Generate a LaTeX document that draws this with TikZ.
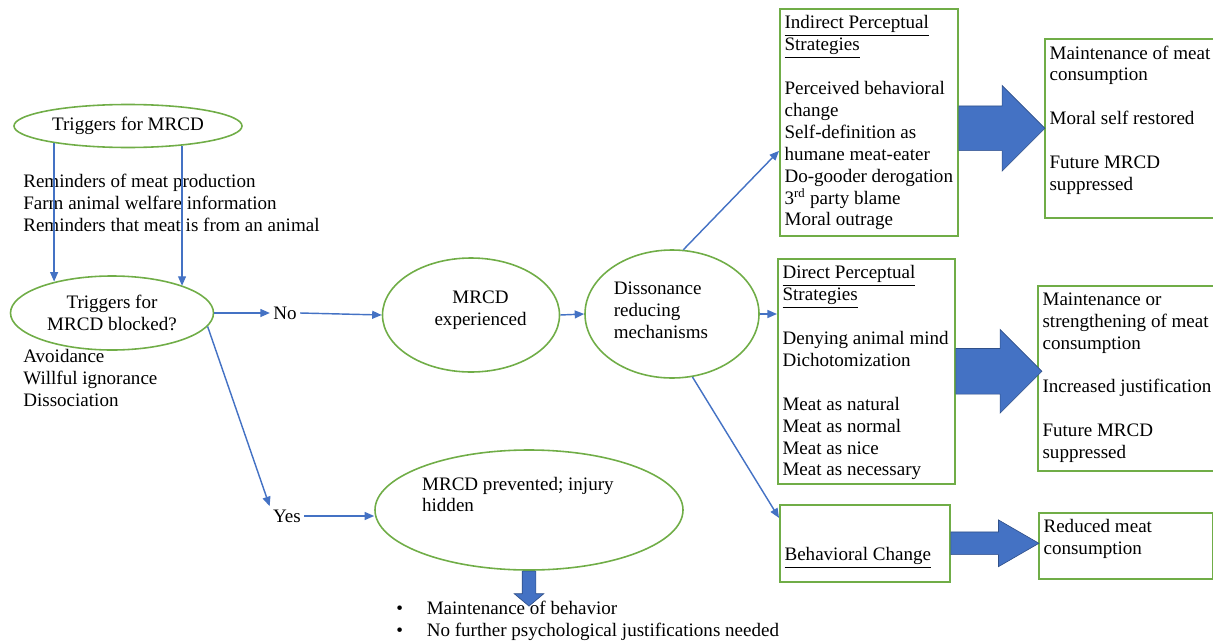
\documentclass[tikz,border=0pt]{standalone}
\usepackage{fontspec}
\setmainfont{Liberation Serif}
\usetikzlibrary{shapes.geometric,shapes.arrows,arrows.meta,positioning,calc}

\definecolor{lineblue}{HTML}{4472C4}
\definecolor{edgegreen}{HTML}{70AD47}
\newlength\pxu
\setlength\pxu{0.63pt}
% text block of a box, top aligned
\newcommand\boxtext[3]{\parbox[c][\dimexpr #2\pxu-6pt\relax][t]{\dimexpr #1\pxu-6pt\relax}{\vspace*{1.3pt}\raggedright #3}}

\begin{document}
\begin{tikzpicture}[
            x=0.63pt, y=-0.63pt,
            font=\fontsize{12}{13.8}\selectfont,
            oval/.style={draw=edgegreen, line width=1pt, ellipse, inner sep=0pt},
            box/.style={draw=edgegreen, line width=1pt, rectangle, inner sep=3pt, anchor=north west},
            plain/.style={inner sep=0pt, align=left, anchor=west},
            arrow/.style={draw=lineblue, line width=0.9pt, -{Triangle[length=6pt,width=5pt]}},
            fat/.style={single arrow, fill=lineblue, draw=lineblue!70!black, line width=0.4pt, inner xsep=0pt, anchor=west}
        ]
            \useasboundingbox (0,0) rectangle (1213,643);

            % left part
            \node[oval, minimum width=228*\pxu, minimum height=43*\pxu, label=center:Triggers for MRCD] (trig) at (128,126) {};
            \node[plain] (remind) at (23,203) {Reminders of meat production\\Farm animal welfare information\\Reminders that meat is from an animal};
            \node[oval, minimum width=203*\pxu, minimum height=74*\pxu, label={[align=center]center:Triggers for\\MRCD blocked?}] (blocked) at (112,313) {};
            \node[plain] (avoid) at (23,378) {Avoidance\\Willful ignorance\\Dissociation};
            \node[inner sep=2pt] (no) at (285,313) {No};
            \node[inner sep=2pt] (yes) at (287,516) {Yes};

            % middle part
            \node[oval, minimum width=177*\pxu, minimum height=114*\pxu, label={[align=center, xshift=6pt, yshift=3pt]center:MRCD\\experienced}] (exper) at (471,315) {};
            \node[oval, minimum width=174*\pxu, minimum height=128*\pxu, label={[align=left, xshift=-7pt, yshift=2.5pt]center:Dissonance\\reducing\\mechanisms}] (diss) at (672,314) {};
            \node[oval, minimum width=308*\pxu, minimum height=120*\pxu, label={[align=left, xshift=-7pt, yshift=9.8pt]center:MRCD prevented; injury\\hidden}] (prev) at (529,510) {};
            \node[plain, anchor=west] (bullets) at (396,621.5) {\begin{tabular}{@{}l@{\hspace{15pt}}l@{}}\textbullet & Maintenance of behavior\\\textbullet & No further psychological justifications needed\end{tabular}};

            % strategy boxes
            \node[box] (indirect) at (779,8) {\boxtext{178}{227}{\underline{Indirect Perceptual}\\\underline{Strategies}\\[\baselineskip]Perceived behavioral\\change\\Self-definition as\\humane meat-eater\\Do-gooder derogation\\3\textsuperscript{rd} party blame\\Moral outrage}};
            \node[box] (direct) at (777,258) {\boxtext{177}{225}{\underline{Direct Perceptual}\\\underline{Strategies}\\[\baselineskip]Denying animal mind\\Dichotomization\\[\baselineskip]Meat as natural\\Meat as normal\\Meat as nice\\Meat as necessary}};
            \node[box] (behav) at (779,504) {\boxtext{170}{77}{\vspace*{22.7pt}\underline{Behavioral Change}}};

            % outcome boxes
            \node[box] (maint) at (1044,38) {\boxtext{182}{179}{Maintenance of meat\\consumption\\[\baselineskip]Moral self restored\\[\baselineskip]Future MRCD\\suppressed}};
            \node[box] (strength) at (1037,285) {\boxtext{189}{185}{Maintenance or\\strengthening of meat\\consumption\\[\baselineskip]Increased justification\\[\baselineskip]Future MRCD\\suppressed}};
            \node[box] (reduced) at (1038,512) {\boxtext{174}{66}{Reduced meat\\consumption}};

            % block arrows
            \node[fat, minimum height=86*\pxu, minimum width=85*\pxu, inner ysep=22*\pxu, single arrow head extend=20.5*\pxu] (fat1) at (indirect.east |- maint.west) {};
            \node[fat, minimum height=86*\pxu, minimum width=83*\pxu, inner ysep=22.5*\pxu, single arrow head extend=19*\pxu] (fat2) at (direct.east) {};
            \node[fat, minimum height=88*\pxu, minimum width=46*\pxu, inner ysep=11*\pxu, single arrow head extend=12*\pxu, single arrow tip angle=60] (fat3) at (behav.east) {};
            \node[fat, rotate=-90, minimum height=35*\pxu, minimum width=29*\pxu, inner ysep=6.5*\pxu, single arrow head extend=8*\pxu, single arrow tip angle=100] (fat4) at (prev.south) {};

            % connectors
            \draw[arrow] (trig.193) -- (trig.193 |- blocked.151);
            \draw[arrow] (trig.-20) -- (trig.-20 |- blocked.21);
            \draw[arrow] (blocked.east) -- (no.west);
            \draw[arrow] (no.east) -- (exper.west);
            \draw[arrow] (blocked.-8) -- (yes.north west);
            \draw[arrow] (yes.east) -- (yes.east -| prev.west);
            \draw[arrow] (exper.east) -- (diss.west);
            \draw[arrow] (diss.80) -- ([yshift=-18pt]indirect.west);
            \draw[arrow] (diss.east) -- (diss.east -| direct.west);
            \draw[arrow] (diss.-72) -- ([yshift=16pt]behav.west);
        \end{tikzpicture}
\end{document}
